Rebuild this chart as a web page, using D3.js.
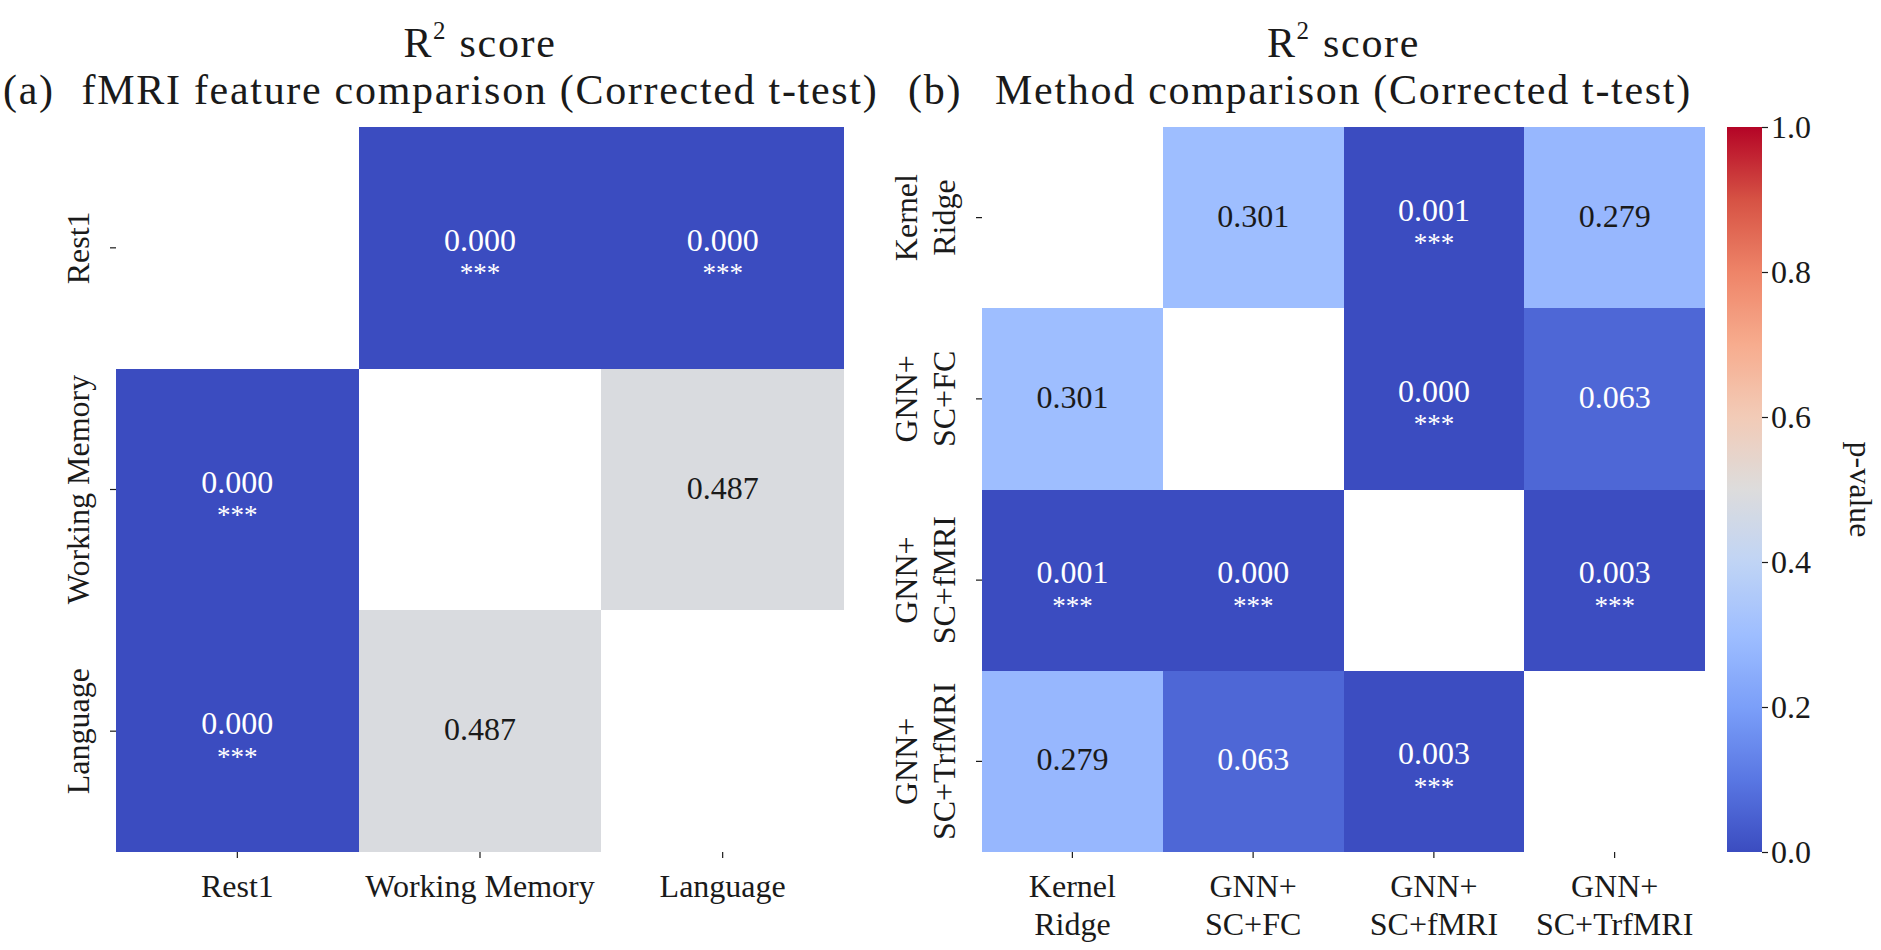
<!DOCTYPE html>
<html lang="en">
<head>
    <meta charset="UTF-8">
    <title>R2 score p-value heatmaps</title>

<style>

body {
  margin: 0;
  background: #fff;
}

svg {
  display: block;
  font-family: 'Liberation Serif', 'Times New Roman', serif;
}

.axis path.domain {
  display: none;
}

.axis line {
  stroke: #1a1a1a;
  stroke-width: 1.2;
}

.axis text {
  font-family: 'Liberation Serif', 'Times New Roman', serif;
  font-size: 32px;
  fill: #1a1a1a;
}

.title {
  font-size: 42px;
  letter-spacing: 1.7px;
  fill: #1a1a1a;
}

</style>

</head>
<body>

<svg width="1881" height="950"></svg>

<script src="https://d3js.org/d3.v7.min.js"></script>
<script>

// panel (a): fMRI features
const featureNames = ['Rest1', 'Working Memory', 'Language'];
const featurePvals = [
    [null, 0.000, 0.000],
    [0.000, null, 0.487],
    [0.000, 0.487, null]
];
const featureStars = [
    ['', '***', '***'],
    ['***', '', ''],
    ['***', '', '']
];

// panel (b): methods
const methodNames = [
    ['Kernel', 'Ridge'],
    ['GNN+', 'SC+FC'],
    ['GNN+', 'SC+fMRI'],
    ['GNN+', 'SC+TrfMRI']
];
const methodPvals = [
    [null, 0.301, 0.001, 0.279],
    [0.301, null, 0.000, 0.063],
    [0.001, 0.000, null, 0.003],
    [0.279, 0.063, 0.003, null]
];
const methodStars = [
    ['', '', '***', ''],
    ['', '', '***', ''],
    ['***', '***', '', '***'],
    ['', '', '***', '']
];

const colorbarTicks = [0, 0.2, 0.4, 0.6, 0.8, 1.0];

// matplotlib coolwarm sampled at 0, 0.1, ... 1
const coolwarm = ['#3b4cc0', '#5977e3', '#7b9ff9', '#9ebeff', '#c0d4f5', '#dddcdc',
                  '#f2cbb7', '#f7ac8e', '#ee8468', '#d65244', '#b40426'];

var svg = d3.select('svg');

var color = d3.scaleLinear()
    .domain(coolwarm.map((c, i) => i / (coolwarm.length - 1)))
    .range(coolwarm)
    .interpolate(d3.interpolateRgb)
    .clamp(true);

// same rule seaborn uses to pick annotation colour
function textColor(c) {
    let rgb = d3.rgb(c);
    let lin = v => {
        v = v / 255;
        return v <= 0.03928 ? v / 12.92 : Math.pow((v + 0.055) / 1.055, 2.4);
    };
    let lum = 0.2126 * lin(rgb.r) + 0.7152 * lin(rgb.g) + 0.0722 * lin(rgb.b);
    return lum > 0.408 ? '#1a1a1a' : '#ffffff';
}

function drawPanel(opts) {
    let n = opts.names.length;

    let x = d3.scaleBand().domain(d3.range(n)).range([opts.left, opts.right]);
    let y = d3.scaleBand().domain(d3.range(n)).range([opts.top, opts.bottom]);

    let cells = [];
    opts.pvals.forEach((row, i) => {
        row.forEach((p, j) => {
            if (p !== null) {
                cells.push({ i: i, j: j, p: p, stars: opts.stars[i][j] });
            }
        });
    });

    let g = svg.append('g');

    /*------------------------------------*\
      CELLS
    \*------------------------------------*/
    g.append('g').selectAll('rect')
        .data(cells)
        .join('rect')
        .attr('x', d => x(d.j))
        .attr('y', d => y(d.i))
        .attr('width', x.bandwidth())
        .attr('height', y.bandwidth())
        .attr('fill', d => color(d.p))
        .attr('shape-rendering', 'crispEdges');

    /*------------------------------------*\
      ANNOTATIONS  (value, then stars underneath)
    \*------------------------------------*/
    let ann = g.append('g').selectAll('g')
        .data(cells)
        .join('g')
        .attr('transform', d => `translate(${x(d.j) + x.bandwidth() / 2},${y(d.i) + y.bandwidth() / 2})`)
        .attr('text-anchor', 'middle')
        .attr('fill', d => textColor(color(d.p)));

    ann.append('text')
        .attr('y', d => d.stars ? 3 : 9)
        .attr('font-size', 32)
        .text(d => d3.format('.3f')(d.p));

    ann.filter(d => d.stars)
        .append('text')
        .attr('y', 34.5)
        .attr('font-size', 27)
        .text(d => d.stars);

    /*------------------------------------*\
      AXES
    \*------------------------------------*/
    let xAxis = g.append('g')
        .attr('class', 'axis')
        .attr('transform', `translate(0,${opts.bottom})`)
        .call(d3.axisBottom(x).tickSize(6).tickFormat(''));

    xAxis.selectAll('.tick').each(function(j) {
        let lines = [].concat(opts.names[j]);
        let t = d3.select(this).append('text').attr('text-anchor', 'middle');
        lines.forEach((s, k) => {
            t.append('tspan').attr('x', 0).attr('y', 45 + k * 38).text(s);
        });
    });

    let yAxis = g.append('g')
        .attr('class', 'axis')
        .attr('transform', `translate(${opts.left},0)`)
        .call(d3.axisLeft(y).tickSize(6).tickFormat(''));

    yAxis.selectAll('.tick').each(function(i) {
        let lines = [].concat(opts.names[i]);
        let t = d3.select(this).append('text')
            .attr('transform', 'rotate(-90)')
            .attr('text-anchor', 'middle');
        lines.forEach((s, k) => {
            t.append('tspan').attr('x', 0).attr('y', -27 - (lines.length - 1 - k) * 38).text(s);
        });
    });

    /*------------------------------------*\
      TITLE (two lines, one text)
    \*------------------------------------*/
    let cx = (opts.left + opts.right) / 2;

    let title = g.append('text')
        .attr('class', 'title')
        .attr('text-anchor', 'middle');
    let line1 = title.append('tspan').attr('x', cx).attr('y', 57);
    line1.append('tspan').text('R');
    line1.append('tspan').attr('font-size', 25).attr('dy', -18).text('2');
    line1.append('tspan').attr('dy', 18).text(' score');
    title.append('tspan')
        .attr('x', cx)
        .attr('y', 104)
        .text(opts.title);

    g.append('text')
        .attr('class', 'title')
        .attr('x', opts.tagX)
        .attr('y', 104)
        .text(opts.tag);
}

drawPanel({
    names: featureNames,
    pvals: featurePvals,
    stars: featureStars,
    left: 116, right: 844, top: 127, bottom: 852,
    title: 'fMRI feature comparison (Corrected t-test)',
    tag: '(a)',
    tagX: 3
});

drawPanel({
    names: methodNames,
    pvals: methodPvals,
    stars: methodStars,
    left: 982, right: 1705, top: 127, bottom: 852,
    title: 'Method comparison (Corrected t-test)',
    tag: '(b)',
    tagX: 908
});

/*------------------------------------*\
  COLORBAR
\*------------------------------------*/
var cb = { left: 1727, right: 1762, top: 127, bottom: 852 };

var cbScale = d3.scaleLinear().domain([0, 1]).range([cb.bottom, cb.top]);

var grad = svg.append('defs').append('linearGradient')
    .attr('id', 'cbGrad')
    .attr('x1', 0).attr('y1', 1)
    .attr('x2', 0).attr('y2', 0);

grad.selectAll('stop')
    .data(d3.range(0, 1.0001, 0.02))
    .join('stop')
    .attr('offset', d => d)
    .attr('stop-color', d => color(d));

svg.append('rect')
    .attr('x', cb.left)
    .attr('y', cbScale(1))
    .attr('width', cb.right - cb.left)
    .attr('height', cbScale(0) - cbScale(1))
    .attr('fill', 'url(#cbGrad)');

svg.append('g')
    .attr('class', 'axis')
    .attr('transform', `translate(${cb.right},0)`)
    .call(d3.axisRight(cbScale).tickValues(colorbarTicks).tickSize(6).tickFormat(d3.format('.1f')));

svg.append('text')
    .attr('transform', `translate(1850,${(cb.top + cb.bottom) / 2}) rotate(90)`)
    .attr('text-anchor', 'middle')
    .attr('font-size', 32)
    .attr('fill', '#1a1a1a')
    .text('p-value');

</script>


</body>
</html>
